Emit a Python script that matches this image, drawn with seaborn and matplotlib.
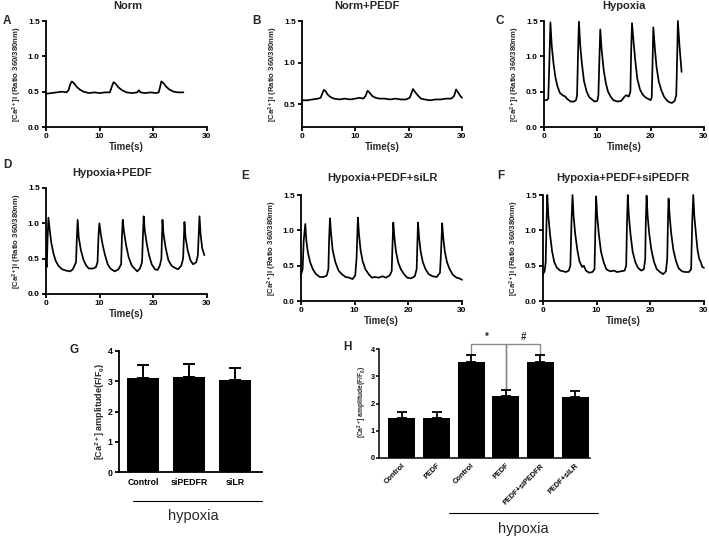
import numpy as np
import matplotlib
matplotlib.use("Agg")
import matplotlib.pyplot as plt
import seaborn as sns

# ---- trace data (time s, ratio) ----
norm_trace = [(0, 0.47), (1, 0.48), (2, 0.49), (3, 0.50), (3.8, 0.49), (4.2, 0.52), (4.5, 0.60),
              (4.8, 0.645), (5.2, 0.62), (5.7, 0.57), (6.3, 0.53), (7, 0.50), (8, 0.48), (9, 0.49),
              (10, 0.48), (11, 0.49), (11.9, 0.49), (12.3, 0.58), (12.6, 0.635), (13.0, 0.61),
              (13.5, 0.56), (14.2, 0.52), (15, 0.49), (16, 0.48), (17, 0.49), (17.3, 0.52),
              (17.6, 0.49), (18.5, 0.48), (19.5, 0.49), (20.5, 0.48), (21.0, 0.49), (21.3, 0.58),
              (21.5, 0.645), (21.9, 0.62), (22.4, 0.57), (23.0, 0.53), (23.8, 0.50), (24.6, 0.49),
              (25.6, 0.49)]

norm_pedf_trace = [(0, 0.55), (1, 0.55), (2, 0.56), (3, 0.57), (3.5, 0.58), (3.8, 0.63), (4.1, 0.675),
                   (4.4, 0.66), (4.8, 0.62), (5.3, 0.59), (6, 0.57), (7, 0.56), (8, 0.57), (9, 0.56),
                   (10, 0.57), (10.8, 0.58), (11.5, 0.57), (11.9, 0.60), (12.3, 0.665), (12.7, 0.64),
                   (13.2, 0.60), (13.8, 0.58), (14.5, 0.57), (15.5, 0.57), (16.5, 0.56), (17.5, 0.57),
                   (18.5, 0.56), (19.5, 0.56), (20.2, 0.58), (20.5, 0.63), (20.8, 0.685), (21.2, 0.65),
                   (21.7, 0.61), (22.3, 0.57), (23, 0.56), (24, 0.55), (25, 0.56), (26, 0.56),
                   (27, 0.57), (28, 0.57), (28.5, 0.60), (28.9, 0.68), (29.3, 0.64), (29.7, 0.60),
                   (30, 0.58)]

hypoxia_trace = [(0, 0.38), (0.5, 0.38), (0.8, 0.40), (1.0, 0.9), (1.2, 1.48), (1.45, 1.15), (1.75, 0.92),
                 (2.1, 0.72), (2.5, 0.58), (3.0, 0.48), (3.5, 0.45), (4.0, 0.43), (4.3, 0.40), (5.0, 0.36),
                 (5.6, 0.36), (6.0, 0.38), (6.2, 0.45), (6.4, 1.1), (6.55, 1.49), (6.8, 1.15), (7.1, 0.9),
                 (7.5, 0.65), (8.0, 0.50), (8.5, 0.42), (9.0, 0.39), (9.5, 0.36), (10.0, 0.37),
                 (10.2, 0.45), (10.4, 1.0), (10.55, 1.38), (10.8, 1.1), (11.2, 0.8), (11.6, 0.62),
                 (12.0, 0.50), (12.5, 0.43), (13.0, 0.38), (13.8, 0.36), (14.5, 0.37), (15.0, 0.42),
                 (15.4, 0.45), (15.9, 0.43), (16.2, 0.5), (16.35, 1.1), (16.5, 1.47), (16.8, 1.2),
                 (17.1, 0.95), (17.5, 0.68), (18.0, 0.53), (18.5, 0.46), (19.0, 0.42), (19.5, 0.40),
                 (20.0, 0.38), (20.2, 0.42), (20.35, 0.9), (20.5, 1.41), (20.8, 1.1), (21.1, 0.85),
                 (21.5, 0.65), (22.0, 0.52), (22.5, 0.43), (23.0, 0.38), (23.5, 0.35), (24.0, 0.34),
                 (24.5, 0.37), (24.8, 0.45), (25.0, 1.1), (25.1, 1.5), (25.4, 1.15), (25.8, 0.78)]

hypoxia_pedf_trace = [(0, 0.45), (0.15, 0.38), (0.3, 0.8), (0.45, 1.08), (0.7, 0.9), (1.0, 0.72), (1.4, 0.57),
                      (1.8, 0.47), (2.3, 0.40), (3.0, 0.35), (3.8, 0.33), (4.5, 0.32), (5.0, 0.35),
                      (5.3, 0.40), (5.6, 0.45), (5.75, 0.8), (5.9, 1.05), (6.1, 0.8), (6.5, 0.62),
                      (7.0, 0.48), (7.5, 0.40), (8.0, 0.36), (8.7, 0.36), (9.3, 0.38), (9.6, 0.45),
                      (9.8, 0.85), (9.95, 1.0), (10.2, 0.85), (10.6, 0.68), (11.0, 0.55), (11.5, 0.42),
                      (12.0, 0.36), (12.8, 0.32), (13.5, 0.35), (14.0, 0.42), (14.15, 0.8), (14.3, 1.05),
                      (14.5, 0.9), (14.9, 0.7), (15.4, 0.52), (16.0, 0.40), (16.5, 0.36), (17.0, 0.32),
                      (17.5, 0.36), (17.9, 0.45), (18.05, 0.8), (18.2, 1.1), (18.4, 0.9), (18.8, 0.7),
                      (19.2, 0.55), (19.7, 0.42), (20.3, 0.35), (20.8, 0.34), (21.2, 0.40), (21.5, 0.5),
                      (21.7, 1.05), (21.9, 0.85), (22.3, 0.65), (22.8, 0.48), (23.4, 0.40), (24.0, 0.37),
                      (24.6, 0.35), (25.2, 0.40), (25.55, 0.5), (25.8, 1.02), (26.0, 0.8), (26.4, 0.62),
                      (26.9, 0.48), (27.4, 0.42), (28.0, 0.45), (28.3, 0.55), (28.6, 1.1), (28.8, 0.85),
                      (29.1, 0.65), (29.5, 0.55)]

hypoxia_pedf_silr_trace = [(0, 0.37), (0.3, 0.45), (0.5, 0.85), (0.8, 1.09), (1.0, 0.85), (1.3, 0.68),
                           (1.7, 0.55), (2.2, 0.45), (2.8, 0.38), (3.5, 0.34), (4.2, 0.34), (4.8, 0.36),
                           (5.1, 0.45), (5.25, 0.9), (5.4, 1.17), (5.6, 0.95), (5.9, 0.72), (6.4, 0.55),
                           (7.0, 0.43), (7.6, 0.38), (8.3, 0.34), (9.0, 0.33), (9.6, 0.31), (10.1, 0.36),
                           (10.35, 0.6), (10.6, 1.18), (10.8, 0.95), (11.1, 0.72), (11.5, 0.56),
                           (12.0, 0.45), (12.6, 0.38), (13.2, 0.33), (13.8, 0.34), (14.5, 0.33),
                           (15.2, 0.35), (15.8, 0.33), (16.5, 0.36), (16.9, 0.42), (17.05, 0.8),
                           (17.2, 1.11), (17.4, 0.9), (17.7, 0.7), (18.1, 0.55), (18.6, 0.45), (19.2, 0.38),
                           (19.8, 0.33), (20.5, 0.32), (21.2, 0.35), (21.55, 0.45), (21.7, 0.85),
                           (21.8, 1.11), (22.0, 0.9), (22.3, 0.7), (22.7, 0.55), (23.2, 0.45), (23.8, 0.38),
                           (24.5, 0.35), (25.3, 0.34), (25.9, 0.40), (26.1, 0.7), (26.3, 1.1), (26.5, 0.9),
                           (26.8, 0.7), (27.2, 0.55), (27.7, 0.45), (28.3, 0.37), (29.0, 0.33),
                           (29.5, 0.32), (30.0, 0.30)]

hypoxia_pedf_sipedfr_trace = [(0, 0.38), (0.3, 0.42), (0.5, 0.55), (0.65, 1.1), (0.8, 1.5), (1.0, 1.2),
                              (1.3, 0.95), (1.7, 0.7), (2.1, 0.55), (2.6, 0.47), (3.2, 0.43), (3.8, 0.42),
                              (4.3, 0.41), (4.8, 0.43), (5.1, 0.5), (5.3, 1.1), (5.5, 1.5), (5.7, 1.2),
                              (6.0, 0.95), (6.4, 0.72), (6.8, 0.56), (7.3, 0.48), (7.6, 0.50), (8.0, 0.43),
                              (8.6, 0.40), (9.2, 0.41), (9.6, 0.45), (9.75, 1.0), (9.9, 1.48), (10.1, 1.2),
                              (10.4, 0.95), (10.8, 0.7), (11.3, 0.55), (11.8, 0.45), (12.5, 0.42),
                              (13.2, 0.43), (13.8, 0.41), (14.5, 0.42), (15.2, 0.43), (15.5, 0.5),
                              (15.65, 1.1), (15.8, 1.5), (16.0, 1.2), (16.3, 0.95), (16.7, 0.7), (17.2, 0.55),
                              (17.7, 0.47), (18.3, 0.43), (18.8, 0.45), (19.05, 0.6), (19.15, 1.1),
                              (19.3, 1.49), (19.5, 1.2), (19.8, 0.95), (20.2, 0.72), (20.7, 0.55),
                              (21.2, 0.45), (21.8, 0.41), (22.4, 0.38), (22.9, 0.42), (23.15, 0.6),
                              (23.3, 1.2), (23.4, 1.45), (23.6, 1.2), (23.9, 0.95), (24.3, 0.72),
                              (24.8, 0.56), (25.3, 0.46), (25.9, 0.42), (26.5, 0.41), (27.2, 0.41),
                              (27.6, 0.45), (27.8, 1.1), (28.0, 1.5), (28.2, 1.2), (28.5, 0.95), (28.8, 0.72),
                              (29.1, 0.6), (29.4, 0.55), (29.7, 0.48), (30.0, 0.47)]

# ---- bar data ----
g_labels = ["Control", "siPEDFR", "siLR"]
g_means = [3.1, 3.15, 3.05]
g_sem = [0.44, 0.42, 0.40]

h_labels = ["Control", "PEDF", "Control", "PEDF", "PEDF+siPEDFR", "PEDF+siLR"]
h_means = [1.45, 1.47, 3.51, 2.28, 3.51, 2.25]
h_sem = [0.24, 0.20, 0.27, 0.21, 0.27, 0.20]

sns.set_style("ticks")
plt.rcParams['font.family'] = ['Liberation Sans', 'DejaVu Sans']
plt.rcParams['font.weight'] = 'bold'
plt.rcParams['mathtext.fontset'] = 'custom'
plt.rcParams['mathtext.rm'] = 'Liberation Sans:bold'
plt.rcParams['mathtext.it'] = 'Liberation Sans:bold'
plt.rcParams['mathtext.bf'] = 'Liberation Sans:bold'

W, H = 709, 536
fig = plt.figure(figsize=(W / 100, H / 100), dpi=100)


def box(l, t, r, b):
    return [l / W, 1 - b / H, (r - l) / W, (b - t) / H]


def txt(x, y, s, **kw):
    kw.setdefault('ha', 'center')
    kw.setdefault('va', 'center')
    kw.setdefault('fontweight', 'bold')
    fig.text(x / W, 1 - y / H, s, **kw)


def style_axes(ax, lw=1.3):
    sns.despine(ax=ax)
    for sp in ['left', 'bottom']:
        ax.spines[sp].set_linewidth(lw)
        ax.spines[sp].set_color('black')
    ax.tick_params(direction='out', length=3, width=lw, pad=1.5, colors='black')


trace_ylab = "[Ca$^{2+}$]i (Ratio 360/380nm)"
amp_ylab = "[Ca$^{2+}$] amplitude(F/F$_0$)"

# (trace, box, title, title pos, letter, letter pos, ylim bottom)
traces = [
    (norm_trace, (46, 21, 207, 127), "Norm", (128, 6), "A", (3, 21), 0.0),
    (norm_pedf_trace, (302, 21, 462, 127), "Norm+PEDF", (367, 6), "B", (252, 21), 0.23),
    (hypoxia_trace, (544, 21, 704, 127), "Hypoxia", (624, 6), "C", (496, 21), 0.0),
    (hypoxia_pedf_trace, (46, 188, 207, 294), "Hypoxia+PEDF", (112, 173), "D", (3, 165), 0.0),
    (hypoxia_pedf_silr_trace, (301, 195, 462, 301), "Hypoxia+PEDF+siLR", (382, 178), "E", (241, 176), 0.0),
    (hypoxia_pedf_sipedfr_trace, (543, 195, 704, 301), "Hypoxia+PEDF+siPEDFR", (623, 178), "F", (497, 176), 0.0),
]

for data, bx, title, tpos, letter, lpos, ybot in traces:
    ax = fig.add_axes(box(*bx))
    t = [p[0] for p in data]
    v = [p[1] for p in data]
    sns.lineplot(x=t, y=v, ax=ax, color='black', linewidth=1.25, estimator=None, clip_on=False)
    ax.set_xlim(0, 30)
    ax.set_ylim(ybot, 1.5)
    ax.set_xticks([0, 10, 20, 30])
    ax.set_yticks([0.0, 0.5, 1.0, 1.5] if ybot == 0 else [0.5, 1.0, 1.5])
    ax.set_yticklabels([f"{y:.1f}" for y in ax.get_yticks()])
    ax.tick_params(labelsize=6)
    style_axes(ax)
    ax.set_xlabel("")
    ax.set_ylabel("")
    txt(tpos[0], tpos[1], title, fontsize=8)
    txt(lpos[0], lpos[1], letter, fontsize=8.5, ha='left')
    l, tp, r, b = bx
    txt((l + r) / 2, b + 20, "Time(s)", fontsize=7)
    txt(l - 29, (tp + b) / 2, trace_ylab, fontsize=5.6, rotation=90)

# ---- panel G ----
ax = fig.add_axes(box(119, 351, 262, 472))
sns.barplot(x=list(range(3)), y=g_means, ax=ax, color='black', width=0.7,
            errorbar=None, saturation=1, edgecolor='black', linewidth=0)
ax.errorbar(range(3), g_means, yerr=[np.zeros(3), g_sem], fmt='none', ecolor='black',
            elinewidth=1.4, capsize=4.5, capthick=1.4, zorder=5)
ax.set_xlim(-0.52, 2.59)
ax.set_ylim(0, 4)
ax.set_yticks([0, 1, 2, 3, 4])
ax.set_xticks(range(3))
ax.set_xticklabels(g_labels)
style_axes(ax)
ax.tick_params(axis='x', length=0, pad=4)
ax.tick_params(labelsize=6.3)
ax.set_xlabel("")
ax.set_ylabel("")
txt(100, 411, amp_ylab, fontsize=6.5, rotation=90)
txt(70, 350, "G", fontsize=8.5, ha='left')
fig.add_artist(plt.Line2D([133 / W, 262 / W], [1 - 501 / H, 1 - 501 / H], color='black', lw=0.8))
txt(193, 516, "hypoxia", fontsize=10.5, fontweight='normal')

# ---- panel H ----
ax = fig.add_axes(box(379, 349, 590, 458))
sns.barplot(x=list(range(6)), y=h_means, ax=ax, color='black', width=0.78,
            errorbar=None, saturation=1, edgecolor='black', linewidth=0)
ax.errorbar(range(6), h_means, yerr=[np.zeros(6), h_sem], fmt='none', ecolor='black',
            elinewidth=1.3, capsize=3.5, capthick=1.3, zorder=5)
ax.set_xlim(-0.66, 5.43)
ax.set_ylim(0, 4)
ax.set_yticks([0, 1, 2, 3, 4])
ax.set_xticks(range(6))
ax.set_xticklabels(h_labels, rotation=45, ha='right', rotation_mode='anchor')
style_axes(ax, lw=1.1)
ax.tick_params(axis='y', length=2, pad=1)
ax.tick_params(axis='x', length=0, pad=3)
ax.tick_params(labelsize=5.3)
ax.set_xlabel("")
ax.set_ylabel("")

# significance brackets
top = 4.2
tops = [m + s for m, s in zip(h_means, h_sem)]
gray = '#8a8a8a'
ax.plot([2, 2, 3, 3], [tops[2], top, top, tops[3]], color=gray, lw=1.0, clip_on=False)
ax.plot([3, 3, 4, 4], [tops[3], top, top, tops[4]], color=gray, lw=1.0, clip_on=False)
ax.text(2.45, top + 0.05, "*", ha='center', va='bottom', fontsize=7)
ax.text(3.5, top + 0.05, "#", ha='center', va='bottom', fontsize=7)

txt(362, 402, amp_ylab, fontsize=4.8, rotation=90)
txt(343, 347, "H", fontsize=8.5, ha='left')
fig.add_artist(plt.Line2D([449 / W, 598 / W], [1 - 513 / H, 1 - 513 / H], color='black', lw=0.8))
txt(523, 529, "hypoxia", fontsize=10.5, fontweight='normal')

fig.savefig("out.png", dpi=100)
